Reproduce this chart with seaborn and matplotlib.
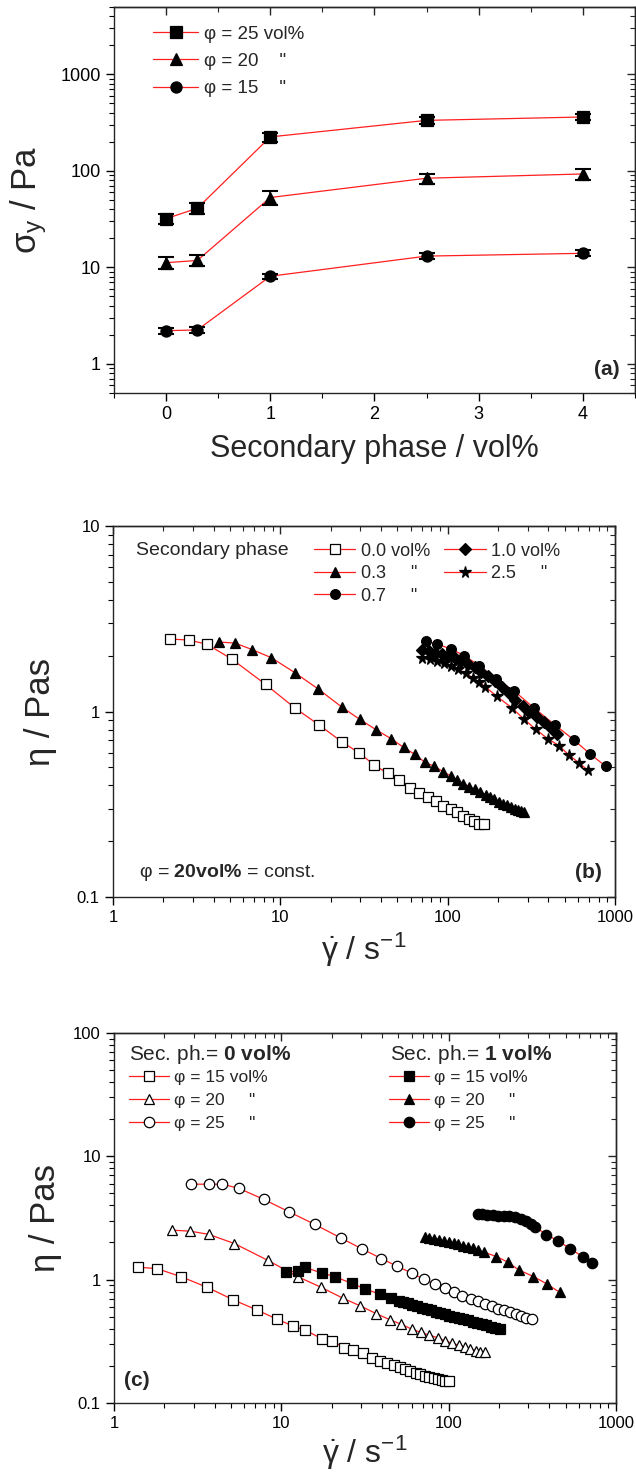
import numpy as np
import pandas as pd
import seaborn as sns
import matplotlib.pyplot as plt
from matplotlib.ticker import FuncFormatter, MultipleLocator, LogLocator

# ---- panel (a): yield stress vs secondary phase ----
sec_phase = [0, 0.3, 1, 2.5, 4]
sy_25 = [32, 41, 225, 334, 362]
sy_25_err = [4, 5, 25, 30, 25]
sy_20 = [11.2, 11.8, 53, 84, 93]
sy_20_err = [1.5, 1.5, 9, 10, 12]
sy_15 = [2.21, 2.25, 8.1, 13.1, 14.0]
sy_15_err = [0.15, 0.15, 0.5, 1.0, 1.0]

# ---- panel (b): viscosity, phi = 20 vol%, varying secondary phase ----
b00_x = [2.19, 2.83, 3.63, 5.12, 8.17, 12.3, 17.0, 23.2, 29.5, 36.3, 43.8, 51.5, 59.9, 67.7,
         76.0, 84.6, 93.6, 104, 113, 123, 134, 144, 153, 164]
b00_y = [2.46, 2.43, 2.31, 1.92, 1.40, 1.04, 0.848, 0.689, 0.599, 0.516, 0.464, 0.427, 0.388,
         0.366, 0.346, 0.328, 0.310, 0.298, 0.286, 0.274, 0.264, 0.256, 0.248, 0.248]
b03_x = [4.27, 5.36, 6.77, 8.85, 12.2, 16.9, 23.2, 29.9, 37.4, 46.0, 54.7, 63.7, 73.0, 83.3,
         93.6, 104, 114, 124, 135, 146, 157, 169, 179, 190, 202, 214, 226, 238, 252, 264, 276, 286]
b03_y = [2.37, 2.34, 2.16, 1.95, 1.62, 1.32, 1.06, 0.906, 0.797, 0.713, 0.640, 0.587, 0.533,
         0.506, 0.475, 0.450, 0.429, 0.409, 0.394, 0.380, 0.368, 0.356, 0.344, 0.336, 0.326,
         0.319, 0.312, 0.305, 0.299, 0.294, 0.290, 0.288]
b07_x = [73.8, 86.8, 105, 126, 154, 194, 250, 326, 435, 570, 708, 881]
b07_y = [2.40, 2.31, 2.17, 2.00, 1.77, 1.50, 1.29, 1.05, 0.851, 0.701, 0.592, 0.506]
b10_x = [70, 77, 84, 92, 100, 110, 120, 132, 145, 159, 175, 192, 211, 232, 254, 280, 308,
         340, 376, 413, 452]
b10_y = [2.15, 2.12, 2.08, 2.04, 1.99, 1.94, 1.88, 1.81, 1.73, 1.64, 1.55, 1.46, 1.36, 1.26,
         1.16, 1.07, 0.99, 0.93, 0.88, 0.82, 0.76]
b25_x = [70, 78, 86, 95, 105, 116, 128, 141, 154, 168, 196, 241, 285, 335, 399, 462, 531, 609, 686]
b25_y = [1.95, 1.91, 1.87, 1.82, 1.76, 1.69, 1.61, 1.52, 1.44, 1.36, 1.21, 1.05, 0.913, 0.803,
         0.710, 0.656, 0.582, 0.529, 0.483]

# ---- panel (c): viscosity, secondary phase 0 and 1 vol% ----
c0_15_x = [1.39, 1.80, 2.50, 3.61, 5.15, 7.12, 9.46, 11.7, 13.9, 17.5, 20.1, 23.7, 26.7, 30.7,
           34.6, 38.7, 43.1, 46.9, 50.9, 55.0, 59.0, 63.4, 67.6, 72.3, 76.8, 81.6, 86.3, 90.8,
           95.5, 101]
c0_15_y = [1.26, 1.23, 1.06, 0.866, 0.687, 0.569, 0.477, 0.421, 0.390, 0.331, 0.321, 0.280,
           0.269, 0.252, 0.232, 0.219, 0.210, 0.202, 0.196, 0.188, 0.181, 0.176, 0.171, 0.167,
           0.163, 0.159, 0.156, 0.153, 0.152, 0.152]
c0_20_x = [2.21, 2.86, 3.68, 5.25, 8.33, 12.5, 17.3, 23.3, 29.6, 36.8, 44.4, 52.2, 60.2, 68.4,
           76.8, 85.9, 95.1, 105, 115, 125, 135, 145, 155, 166]
c0_20_y = [2.52, 2.47, 2.33, 1.96, 1.43, 1.06, 0.866, 0.708, 0.613, 0.531, 0.474, 0.434, 0.397,
           0.373, 0.355, 0.338, 0.319, 0.305, 0.294, 0.285, 0.275, 0.266, 0.260, 0.258]
c0_25_x = [2.89, 3.72, 4.42, 5.55, 7.84, 11.1, 15.9, 22.6, 30.5, 39.7, 49.4, 60.2, 70.8, 82.4,
           94.6, 108, 121, 136, 150, 166, 182, 198, 215, 233, 252, 270, 290, 316]
c0_25_y = [5.94, 5.94, 5.94, 5.51, 4.48, 3.55, 2.80, 2.18, 1.77, 1.48, 1.28, 1.13, 1.01, 0.922,
           0.855, 0.793, 0.740, 0.700, 0.665, 0.632, 0.609, 0.583, 0.565, 0.545, 0.524, 0.508,
           0.492, 0.477]
c1_15_x = [10.6, 12.5, 13.8, 17.5, 20.8, 26.3, 31.8, 38.7, 45.1, 50.4, 53.6, 57.3, 60.8, 65.0,
           69.1, 73.8, 78.4, 83.7, 89.0, 95.1, 101, 108, 115, 122, 130, 139, 148, 158, 168, 179,
           190, 203]
c1_15_y = [1.15, 1.17, 1.26, 1.13, 1.06, 0.933, 0.839, 0.763, 0.708, 0.673, 0.656, 0.641, 0.625,
           0.609, 0.594, 0.580, 0.565, 0.551, 0.537, 0.524, 0.511, 0.501, 0.489, 0.477, 0.468,
           0.456, 0.448, 0.437, 0.426, 0.416, 0.407, 0.397]
c1_20_x = [71.9, 76.8, 82.0, 87.6, 93.6, 100, 107, 114, 122, 130, 139, 149, 162, 193, 225, 262,
           321, 387, 462]
c1_20_y = [2.22, 2.18, 2.14, 2.10, 2.06, 2.02, 1.98, 1.93, 1.88, 1.84, 1.79, 1.74, 1.67, 1.54,
           1.39, 1.20, 1.06, 0.922, 0.787]
c1_25_x = [149, 158, 170, 184, 198, 214, 231, 249, 269, 290, 310, 329, 383, 451, 533, 631, 723]
c1_25_y = [3.40, 3.38, 3.36, 3.34, 3.31, 3.29, 3.25, 3.19, 3.09, 2.98, 2.85, 2.68, 2.32, 2.06,
           1.78, 1.54, 1.36]

RED = "#ff1f1f"

sns.set_style("ticks")
plt.rcParams["font.family"] = ["Liberation Sans", "DejaVu Sans"]
plt.rcParams["mathtext.fontset"] = "custom"
plt.rcParams["mathtext.rm"] = "Liberation Sans"
plt.rcParams["mathtext.it"] = "Liberation Sans"
plt.rcParams["mathtext.bf"] = "Liberation Sans:bold"
plt.rcParams["axes.linewidth"] = 1.0


def series(ax, x, y, marker, filled, label, ms=6.5):
    df = pd.DataFrame({"x": x, "y": y})
    sns.lineplot(data=df, x="x", y="y", ax=ax, color=RED, lw=0.9, marker=marker, ms=ms,
                 mfc="black" if filled else "white", mec="black", mew=0.9,
                 errorbar=None, legend=False, label=label, sort=False)


def fmt(v, pos):
    return f"{v:g}"


def style(ax, labelsize, logx):
    ax.tick_params(which="both", direction="out", top=False, right=False, colors="black",
                   labelsize=labelsize)
    ax.tick_params(which="major", length=6, width=1)
    ax.tick_params(which="minor", length=3.5, width=0.8)
    top = ax.secondary_xaxis("top")
    right = ax.secondary_yaxis("right")
    for sec in (top, right):
        sec.tick_params(which="both", direction="in", labeltop=False, labelright=False)
        sec.tick_params(which="major", length=6, width=1)
        sec.tick_params(which="minor", length=3.5, width=0.8)
    if not logx:
        for a in (ax, top):
            a.xaxis.set_major_locator(MultipleLocator(1))
            a.xaxis.set_minor_locator(MultipleLocator(0.5))
    return top, right


fig = plt.figure(figsize=(6.36, 14.79), dpi=100)
ax_a = fig.add_axes([0.1792, 0.7343, 0.8192, 0.2610])
ax_b = fig.add_axes([0.1777, 0.3935, 0.7893, 0.2508])
ax_c = fig.add_axes([0.1792, 0.0514, 0.7893, 0.2502])

# ---------------- (a) ----------------
ax_a.set_yscale("log")
for yv, err, mk, lab in [(sy_25, sy_25_err, "s", 'φ = 25 vol%'),
                         (sy_20, sy_20_err, "^", 'φ = 20    "'),
                         (sy_15, sy_15_err, "o", 'φ = 15    "')]:
    series(ax_a, sec_phase, yv, mk, True, lab, ms=8)
    ax_a.errorbar(sec_phase, yv, yerr=err, fmt="none", ecolor="black", elinewidth=1.2,
                  capsize=6, capthick=1.5, zorder=5)
ax_a.set_xlim(-0.5, 4.5)
ax_a.set_ylim(0.5, 5000)
style(ax_a, 13, False)
ax_a.yaxis.set_major_formatter(FuncFormatter(fmt))
ax_a.set_xlabel("Secondary phase / vol%", fontsize=22, labelpad=8)
ax_a.set_ylabel(r"$\sigma_{\mathrm{y}}$ / Pa", fontsize=25, labelpad=8)
ax_a.legend(loc="upper left", bbox_to_anchor=(0.075, 0.952), frameon=False, fontsize=13.5,
            handlelength=2.4, handletextpad=0.3, labelspacing=0.55, borderpad=0,
            borderaxespad=0)
ax_a.text(0.97, 0.06, "(a)", transform=ax_a.transAxes, ha="right", va="center",
          fontsize=15, fontweight="bold")

# ---------------- (b) ----------------
ax_b.set_xscale("log")
ax_b.set_yscale("log")
series(ax_b, b00_x, b00_y, "s", False, "0.0 vol%")
series(ax_b, b03_x, b03_y, "^", True, '0.3     "', ms=7)
series(ax_b, b07_x, b07_y, "o", True, '0.7     "', ms=7)
series(ax_b, b10_x, b10_y, "D", True, "1.0 vol%", ms=6)
series(ax_b, b25_x, b25_y, "*", True, '2.5     "', ms=8.5)
ax_b.set_xlim(1, 1000)
ax_b.set_ylim(0.1, 10)
style(ax_b, 12, True)
for axis in (ax_b.xaxis, ax_b.yaxis):
    axis.set_major_formatter(FuncFormatter(fmt))
ax_b.set_xlabel(r"$\dot{\gamma}$ / s$^{-1}$", fontsize=23, labelpad=4)
ax_b.set_ylabel("η / Pas", fontsize=25, labelpad=14)
ax_b.legend(loc="upper left", bbox_to_anchor=(0.40, 0.955), ncol=2, frameon=False,
            fontsize=13, handlelength=2.3, handletextpad=0.3, labelspacing=0.3,
            columnspacing=0.8, borderpad=0, borderaxespad=0)
ax_b.text(0.046, 0.935, "Secondary phase", transform=ax_b.transAxes, ha="left",
          va="center", fontsize=14)
ax_b.text(0.052, 0.065, r"φ = $\mathbf{20vol\%}$ = const.", transform=ax_b.transAxes,
          ha="left", va="center", fontsize=14)
ax_b.text(0.974, 0.065, "(b)", transform=ax_b.transAxes, ha="right", va="center",
          fontsize=15, fontweight="bold")

# ---------------- (c) ----------------
ax_c.set_xscale("log")
ax_c.set_yscale("log")
series(ax_c, c0_15_x, c0_15_y, "s", False, "φ = 15 vol%")
series(ax_c, c0_20_x, c0_20_y, "^", False, 'φ = 20     "', ms=7.5)
series(ax_c, c0_25_x, c0_25_y, "o", False, 'φ = 25     "', ms=7.5)
series(ax_c, c1_15_x, c1_15_y, "s", True, "φ = 15 vol%")
series(ax_c, c1_20_x, c1_20_y, "^", True, 'φ = 20     "', ms=7.5)
series(ax_c, c1_25_x, c1_25_y, "o", True, 'φ = 25     "', ms=7.5)
ax_c.set_xlim(1, 1000)
ax_c.set_ylim(0.1, 100)
style(ax_c, 12, True)
for axis in (ax_c.xaxis, ax_c.yaxis):
    axis.set_major_formatter(FuncFormatter(fmt))
ax_c.set_xlabel(r"$\dot{\gamma}$ / s$^{-1}$", fontsize=23, labelpad=2)
ax_c.set_ylabel("η / Pas", fontsize=25, labelpad=8)
handles, labels = ax_c.get_legend_handles_labels()
leg_kw = dict(loc="upper left", frameon=False, fontsize=12.5, handlelength=2.3,
              handletextpad=0.3, labelspacing=0.45, borderpad=0, borderaxespad=0)
leg1 = ax_c.legend(handles[:3], labels[:3], bbox_to_anchor=(0.030, 0.900), **leg_kw)
ax_c.add_artist(leg1)
ax_c.legend(handles[3:], labels[3:], bbox_to_anchor=(0.548, 0.900), **leg_kw)
ax_c.text(0.030, 0.943, r"Sec. ph.= $\mathbf{0\ vol\%}$", transform=ax_c.transAxes,
          ha="left", va="center", fontsize=15)
ax_c.text(0.550, 0.943, r"Sec. ph.= $\mathbf{1\ vol\%}$", transform=ax_c.transAxes,
          ha="left", va="center", fontsize=15)
ax_c.text(0.020, 0.062, "(c)", transform=ax_c.transAxes, ha="left", va="center",
          fontsize=15, fontweight="bold")

fig.savefig("out.png", dpi=100)
